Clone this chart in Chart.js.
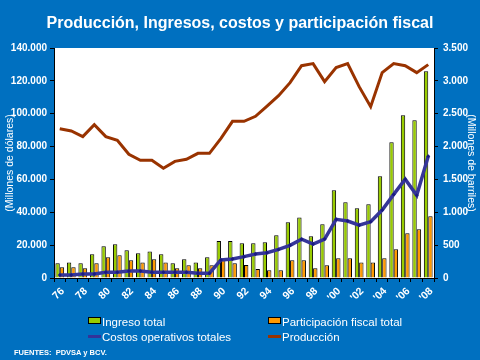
<!DOCTYPE html>
<html>
<head>
<meta charset="utf-8">
<script src="https://cdn.jsdelivr.net/npm/chart.js@4.4.0/dist/chart.umd.min.js"></script>
<style>
    body { margin: 0; background: #0070c0; }
    #wrap { position: relative; width: 480px; height: 360px; background: #0070c0; font-family: Arial, "Liberation Sans", sans-serif; color: #fff; }
    #title { position: absolute; left: 0; top: 14px; width: 480px; text-align: center; font-weight: bold; font-size: 16px; }
    .leg { position: absolute; font-size: 11.5px; line-height: 14px; white-space: nowrap; }
    .box { display: inline-block; width: 11px; height: 5px; border: 1px solid #000; vertical-align: 2px; margin-right: 1px; }
    .ln { display: inline-block; width: 13px; height: 3px; vertical-align: 3px; margin-right: 1px; position: relative; }
    #src { position: absolute; left: 14px; top: 348px; font-size: 7.5px; font-weight: bold; }
    canvas { position: absolute; left: 0; top: 0; }
</style>
</head>
<body>
<div id="wrap">
    <canvas id="chart" width="480" height="360"></canvas>
    <div id="title">Producción, Ingresos, costos y participación fiscal</div>
    <div class="leg" style="left:88px; top:315px;"><span class="box" style="background:#99cc00"></span>Ingreso total</div>
    <div class="leg" style="left:268px; top:315px;"><span class="box" style="background:#ff9900"></span>Participación fiscal total</div>
    <div class="leg" style="left:88px; top:330px;"><span class="ln" style="background:#333399"></span>Costos operativos totales</div>
    <div class="leg" style="left:268px; top:330px;"><span class="ln" style="background:#993300"></span>Producción</div>
    <div id="src">FUENTES:&nbsp;&nbsp;PDVSA y BCV.</div>
</div>
<script>
const years = ['76', '77', '78', '79', '80', '81', '82', '83', '84', '85', '86', '87', '88', '89',
    '90', '91', '92', '93', '94', '95', '96', '97', '98', '99',
    "'00", "'01", "'02", "'03", "'04", "'05", "'06", "'07", "'08"];

// millones de dólares
const ingresoTotal = [9000, 9500, 9000, 14400, 19300, 20500, 16900, 15000, 16200, 14400, 9000, 11400, 9500, 12600,
    22500, 22500, 21100, 21100, 21700, 26000, 33900, 36900, 25400, 32700,
    53400, 46100, 42400, 44900, 61900, 82600, 99000, 96000, 125800];
const participacionFiscal = [6500, 6500, 5900, 9000, 12600, 13800, 10800, 9500, 11400, 9500, 5900, 7700, 5900, 7700,
    11200, 9000, 7900, 5500, 4700, 4700, 10800, 10800, 5900, 7700,
    12000, 12000, 9500, 9500, 12000, 17500, 27200, 29600, 37600];
const costosOperativos = [1800, 1800, 2400, 2400, 3500, 3500, 4300, 4300, 3500, 3500, 3500, 3500, 2900, 2900,
    11000, 11600, 13000, 14600, 15400, 17400, 19900, 23600, 20700, 23700,
    35700, 34700, 32100, 34300, 41400, 50900, 60100, 50300, 74100];
// millones de barriles
const produccion = [2272, 2237, 2151, 2333, 2151, 2095, 1882, 1791, 1791, 1669, 1775, 1806, 1897, 1897,
    2125, 2384, 2384, 2460, 2617, 2775, 2972, 3231, 3262, 2988,
    3201, 3262, 2912, 2607, 3125, 3262, 3231, 3125, 3247];

Chart.defaults.font.family = 'Arial, "Liberation Sans", sans-serif';
Chart.defaults.color = '#fff';

const whiteArea = {
    id: 'whiteArea',
    beforeDraw(chart) {
        const a = chart.chartArea;
        const ctx = chart.ctx;
        ctx.save();
        ctx.fillStyle = '#fff';
        ctx.fillRect(a.left, a.top, a.right - a.left, a.bottom - a.top);
        ctx.restore();
    }
};

function dotted(n) {
    return n.toString().replace(/\B(?=(\d{3})+(?!\d))/g, '.');
}

let chart = new Chart(document.getElementById('chart'), {
    type: 'bar',
    data: {
        labels: years,
        datasets: [{
            type: 'line',
            label: 'Costos operativos totales',
            data: costosOperativos,
            yAxisID: 'y',
            borderColor: '#353599',
            borderWidth: 3.5,
            pointStyle: 'rectRot',
            pointRadius: 2,
            pointBackgroundColor: '#1a1a80',
            pointBorderWidth: 0,
            tension: 0,
            order: 0
        }, {
            type: 'line',
            label: 'Producción',
            data: produccion,
            yAxisID: 'y1',
            borderColor: '#993300',
            borderWidth: 3,
            pointRadius: 0,
            tension: 0,
            order: 0
        }, {
            label: 'Ingreso total',
            data: ingresoTotal,
            yAxisID: 'y',
            backgroundColor: '#99cc00',
            borderColor: '#000',
            borderWidth: 1,
            barPercentage: 1,
            categoryPercentage: 0.76,
            order: 1
        }, {
            label: 'Participación fiscal total',
            data: participacionFiscal,
            yAxisID: 'y',
            backgroundColor: '#ff9900',
            borderColor: '#000',
            borderWidth: 1,
            barPercentage: 1,
            categoryPercentage: 0.76,
            order: 1
        }]
    },
    options: {
        responsive: false,
        animation: false,
        layout: {
            padding: { top: 48, bottom: 52, left: 0, right: 0 }
        },
        plugins: {
            legend: { display: false },
            title: { display: false },
            tooltip: { enabled: false }
        },
        scales: {
            x: {
                afterFit(scale) { scale.height = 30; },
                grid: { drawOnChartArea: false, color: '#000', tickLength: 4 },
                border: { color: '#000', width: 1 },
                ticks: {
                    autoSkip: false,
                    maxRotation: 45,
                    minRotation: 45,
                    padding: 3,
                    labelOffset: 3,
                    font: { size: 10.5, weight: 'bold' },
                    callback: function (val, idx) {
                        return idx % 2 === 0 ? this.getLabelForValue(val) : '';
                    }
                }
            },
            y: {
                position: 'left',
                min: 0,
                max: 140000,
                afterFit(scale) { scale.width = 54; },
                grid: { drawOnChartArea: false, color: '#000', tickLength: 4 },
                border: { color: '#000', width: 1 },
                ticks: {
                    stepSize: 20000,
                    padding: 3,
                    font: { size: 10, weight: 'bold' },
                    callback: function (v) { return dotted(v); }
                },
                title: {
                    display: true,
                    text: '(Millones de dólares)',
                    font: { size: 10.5 },
                    padding: { top: 4, bottom: 0 }
                }
            },
            y1: {
                position: 'right',
                min: 0,
                max: 3500,
                afterFit(scale) { scale.width = 46; },
                grid: { drawOnChartArea: false, color: '#000', tickLength: 4 },
                border: { color: '#000', width: 1 },
                ticks: {
                    stepSize: 500,
                    padding: 5,
                    font: { size: 10, weight: 'bold' },
                    callback: function (v) { return dotted(v); }
                },
                title: {
                    display: true,
                    text: '(Millones de barriles)',
                    font: { size: 10.5 },
                    padding: { top: 3, bottom: 0 }
                }
            }
        }
    },
    plugins: [whiteArea]
});
</script>
</body>
</html>
